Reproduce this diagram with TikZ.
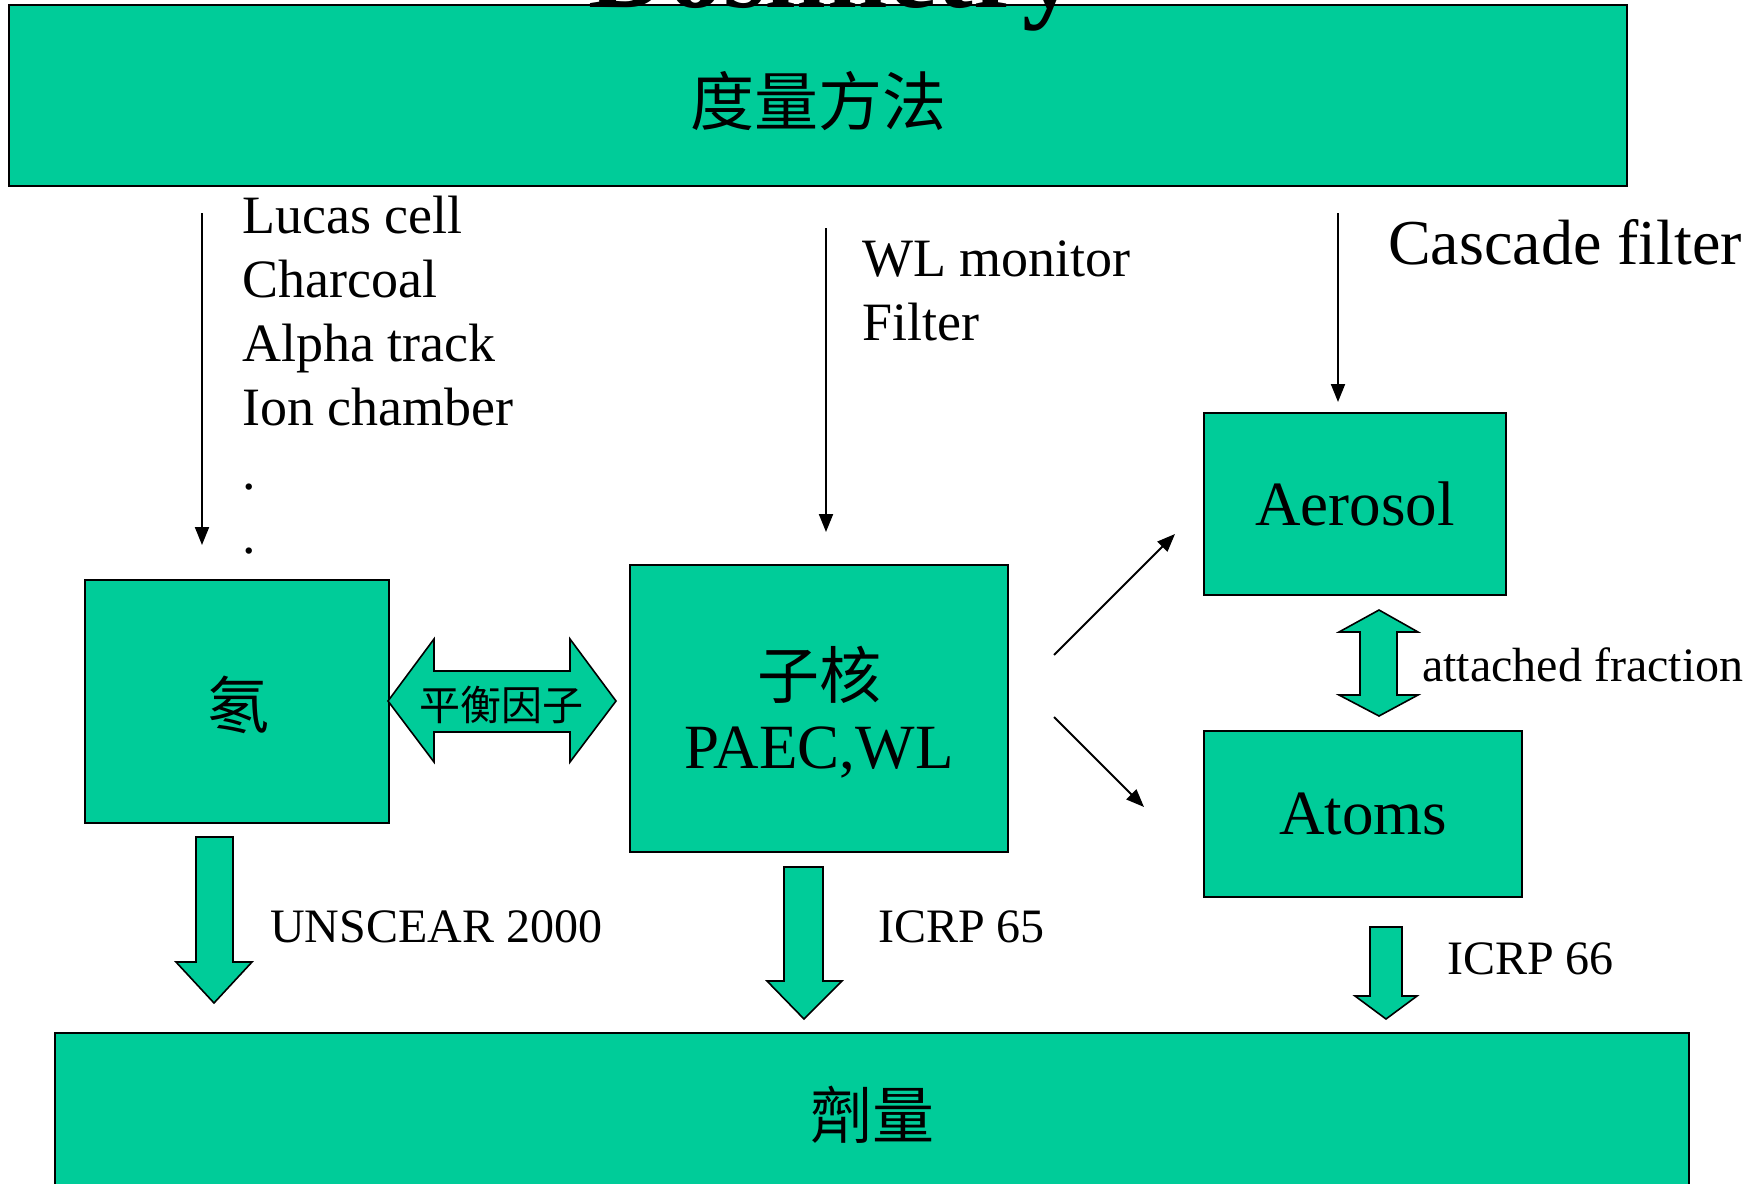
\documentclass[tikz,border=0pt]{standalone}
\usepackage{fontspec}
\setmainfont{Liberation Serif}
\newfontfamily\cjk{Noto Sans CJK TC}
\usetikzlibrary{arrows.meta}
\definecolor{tgreen}{RGB}{0,204,153}
\tikzset{
  box/.style={draw=black, line width=2pt, fill=tgreen, inner sep=0pt, minimum width=#1},
  thinarr/.style={line width=2pt, -{Triangle[width=14pt,length=18pt]}},
  blockarr/.style={draw=black, line width=1.6pt, fill=tgreen, line join=miter},
  lbl/.style={inner sep=0pt, anchor=base west},
  cjkbig/.style={font=\cjk\fontsize{62}{70}\selectfont},
  txtmid/.style={font=\fontsize{54}{64}\selectfont},
  txtsmall/.style={font=\fontsize{48}{56}\selectfont},
  txtbig/.style={font=\fontsize{63}{72}\selectfont},
}
\begin{document}
\begin{tikzpicture}[x=1pt,y=-1pt]
\useasboundingbox (0,0) rectangle (1760,1183);
\clip (0,0) rectangle (1760,1183);

% top box
\node[box=1618pt, minimum height=181pt] (meth) at (818,95) {};
\node[inner sep=0pt, font=\cjk\fontsize{64}{70}\selectfont] (methT) at (818,101) {度量方法};
\node[inner sep=0pt, anchor=base, font=\bfseries\fontsize{110}{120}\selectfont] (title) at (833,8) {Dosimetry};

% main boxes
\node[box=304pt, minimum height=243pt] (rn) at (237,701) {};
\node[inner sep=0pt, cjkbig] (rnT) at (238,705) {氡};
\node[box=378pt, minimum height=287pt] (prog) at (819,708.5) {};
\node[inner sep=0pt, cjkbig] (progA) at (819,675) {子核};
\node[inner sep=0pt, anchor=base, font=\fontsize{63}{72}\selectfont] (progB) at (819,768) {PAEC,WL};
\node[box=302pt, minimum height=182pt, txtbig] (aer) at (1355,504) {Aerosol};
\node[box=318pt, minimum height=166pt, txtbig] (atm) at (1363,814) {Atoms};
\node[box=1634pt, minimum height=164pt, cjkbig] (dose) at (872,1115) {劑量};

% method lists
\node[lbl, txtmid] (l1a) at (242,233) {Lucas cell};
\node[lbl, txtmid] (l1b) at (242,297) {Charcoal};
\node[lbl, txtmid] (l1c) at (242,361) {Alpha track};
\node[lbl, txtmid] (l1d) at (242,425) {Ion chamber};
\node[lbl, txtmid] (l1e) at (242,489) {.};
\node[lbl, txtmid] (l1f) at (242,553) {.};
\node[lbl, txtmid] (l2a) at (862,276) {WL monitor};
\node[lbl, txtmid] (l2b) at (862,340) {Filter};
\node[lbl, font=\fontsize{64}{72}\selectfont] (l3) at (1388,264) {Cascade filter};

% thin arrows
\coordinate (s1) at (202,213);
\coordinate (e1) at (202,545);
\draw[thinarr] (s1) -- (e1);
\coordinate (s2) at (826,228);
\coordinate (e2) at (826,532);
\draw[thinarr] (s2) -- (e2);
\coordinate (s3) at (1338,213);
\coordinate (e3) at (1338,402);
\draw[thinarr] (s3) -- (e3);
\coordinate (d1s) at (1054,655);
\coordinate (d1e) at (1175,534);
\draw[thinarr] (d1s) -- (d1e);
\coordinate (d2s) at (1054,717);
\coordinate (d2e) at (1144,807);
\draw[thinarr] (d2s) -- (d2e);

% equilibrium double arrow
\draw[blockarr] (388,701) -- (434,639) -- (434,671) -- (570,671) -- (570,639) -- (616,701)
  -- (570,762) -- (570,732) -- (434,732) -- (434,762) -- cycle;
\node[inner sep=0pt, font=\cjk\fontsize{41}{46}\selectfont] (eq) at (501,705) {平衡因子};

% attached fraction double arrow
\draw[blockarr] (1379,610) -- (1418,632) -- (1397,632) -- (1397,695) -- (1418,695) -- (1379,716)
  -- (1339,695) -- (1360,695) -- (1360,632) -- (1339,632) -- cycle;
\node[lbl, txtsmall] (att) at (1422,681) {attached fraction};

% down block arrows
\draw[blockarr] (196,837) -- (233,837) -- (233,962) -- (252,962) -- (214,1003) -- (176,962) -- (196,962) -- cycle;
\node[lbl, txtsmall] (un) at (270,942) {UNSCEAR 2000};
\draw[blockarr] (784,867) -- (823,867) -- (823,981) -- (842,981) -- (804,1019) -- (767,981) -- (784,981) -- cycle;
\node[lbl, txtsmall] (ic65) at (878,942) {ICRP 65};
\draw[blockarr] (1370,927) -- (1402,927) -- (1402,996) -- (1417,996) -- (1386,1019) -- (1355,996) -- (1370,996) -- cycle;
\node[lbl, txtsmall] (ic66) at (1447,974) {ICRP 66};
\end{tikzpicture}
\end{document}
